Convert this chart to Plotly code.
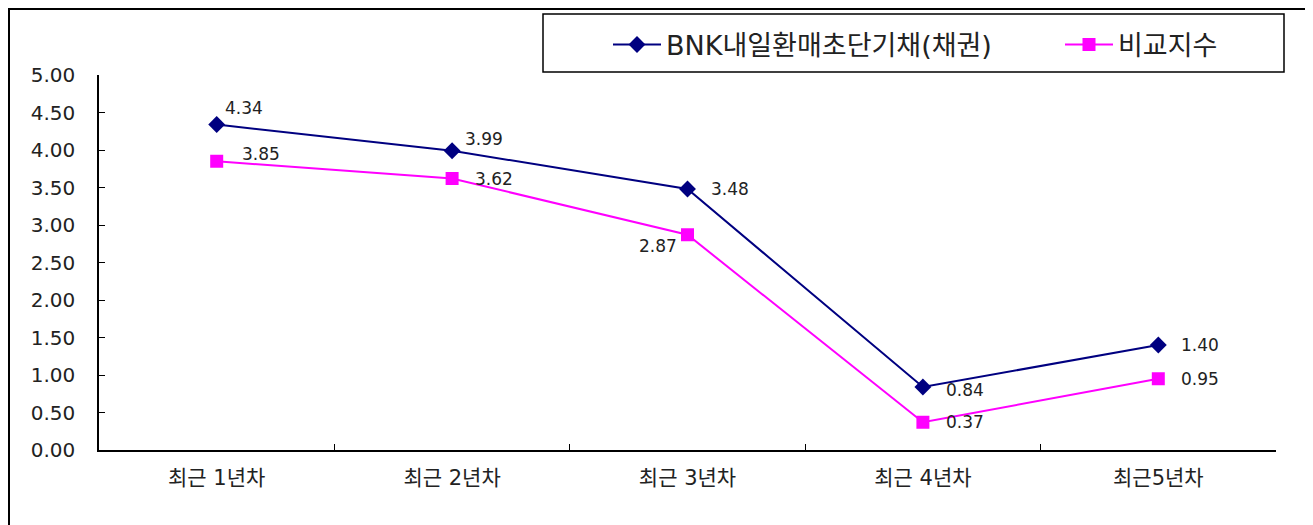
import plotly.graph_objects as go

categories = ["최근 1년차", "최근 2년차", "최근 3년차", "최근 4년차", "최근5년차"]
fund_name = "BNK내일환매초단기채(채권)"
fund_values = [4.34, 3.99, 3.48, 0.84, 1.40]
bench_name = "비교지수"
bench_values = [3.85, 3.62, 2.87, 0.37, 0.95]
y_ticks = [0.0, 0.5, 1.0, 1.5, 2.0, 2.5, 3.0, 3.5, 4.0, 4.5, 5.0]

NAVY = "#000080"
MAGENTA = "#FF00FF"
FONT = "DejaVu Sans, Noto Sans CJK KR, sans-serif"

fig = go.Figure()
fig.add_trace(go.Scatter(
    x=categories, y=fund_values, name=fund_name, mode="lines+markers",
    line=dict(color=NAVY, width=2),
    marker=dict(symbol="diamond", size=13, color=NAVY),
    legend="legend",
))
fig.add_trace(go.Scatter(
    x=categories, y=bench_values, name=bench_name, mode="lines+markers",
    line=dict(color=MAGENTA, width=2),
    marker=dict(symbol="square", size=13, color=MAGENTA),
    legend="legend2",
))

# label offsets (px): (xanchor, xshift, yshift)
fund_offsets = [("left", 6, 17), ("left", 11, 12), ("left", 21, 0), ("left", 21, -3), ("left", 21, 0)]
bench_offsets = [("left", 23, 7), ("left", 21, 0), ("right", -9, -11), ("left", 21, 0), ("left", 21, 0)]

for vals, offs in ((fund_values, fund_offsets), (bench_values, bench_offsets)):
    for c, v, (xa, xs, ys) in zip(categories, vals, offs):
        fig.add_annotation(
            x=c, y=v, text=f"{v:.2f}", showarrow=False,
            xanchor=xa, yanchor="middle", xshift=xs, yshift=ys,
            font=dict(family=FONT, size=17, color="#222"),
        )

# page has an 8px body margin; figure size/margins account for it
OFF = 8
W, H = 1313 - OFF, 525 - OFF
PL, PR, PT, PB = 99, 1276, 75, 450          # plot area in page pixels
ml, mr, mt, mb = PL - OFF, W - (PR - OFF), PT - OFF, H - (PB - OFF)
pw, ph = W - ml - mr, H - mt - mb

def px_x(p):
    return (p - OFF - ml) / pw

def px_y(p):
    return (H - mb - (p - OFF)) / ph

# outer frame (left/top edges clamped to the figure edge)
fig.add_shape(type="rect", xref="paper", yref="paper",
              x0=px_x(OFF + 1), x1=px_x(1310), y0=px_y(560), y1=px_y(OFF + 1),
              line=dict(color="black", width=2), fillcolor="rgba(0,0,0,0)", layer="below")
# legend frame
fig.add_shape(type="rect", xref="paper", yref="paper",
              x0=px_x(543), x1=px_x(1284), y0=px_y(72), y1=px_y(14),
              line=dict(color="black", width=1.5), fillcolor="rgba(0,0,0,0)", layer="below")

legend_common = dict(
    orientation="h", yanchor="middle", xanchor="left",
    font=dict(family=FONT, size=27, color="#222"),
    bgcolor="rgba(0,0,0,0)", borderwidth=0, itemwidth=48,
)

fig.update_layout(
    width=W, height=H,
    margin=dict(l=ml, r=mr, t=mt, b=mb, autoexpand=False),
    paper_bgcolor="white", plot_bgcolor="white",
    font=dict(family=FONT, color="#222"),
    showlegend=True,
    legend=dict(x=px_x(608), y=px_y(45), **legend_common),
    legend2=dict(x=px_x(1060), y=px_y(45), **legend_common),
    xaxis=dict(
        type="category", range=[-0.5, len(categories) - 0.5],
        showline=True, linecolor="black", linewidth=1.5,
        ticks="inside", tickson="boundaries", ticklen=6, tickcolor="black", tickwidth=1,
        showgrid=False, zeroline=False,
        tickfont=dict(family=FONT, size=21, color="#222"),
        ticklabelstandoff=8,
    ),
    yaxis=dict(
        range=[0, 5], tickvals=y_ticks, tickformat=".2f",
        showline=True, linecolor="black", linewidth=1.5,
        ticks="inside", ticklen=6, tickcolor="black", tickwidth=1,
        showgrid=False, zeroline=False,
        tickfont=dict(family=FONT, size=20, color="#222"),
        ticklabelstandoff=18,
    ),
)

fig.write_html("out.html")
